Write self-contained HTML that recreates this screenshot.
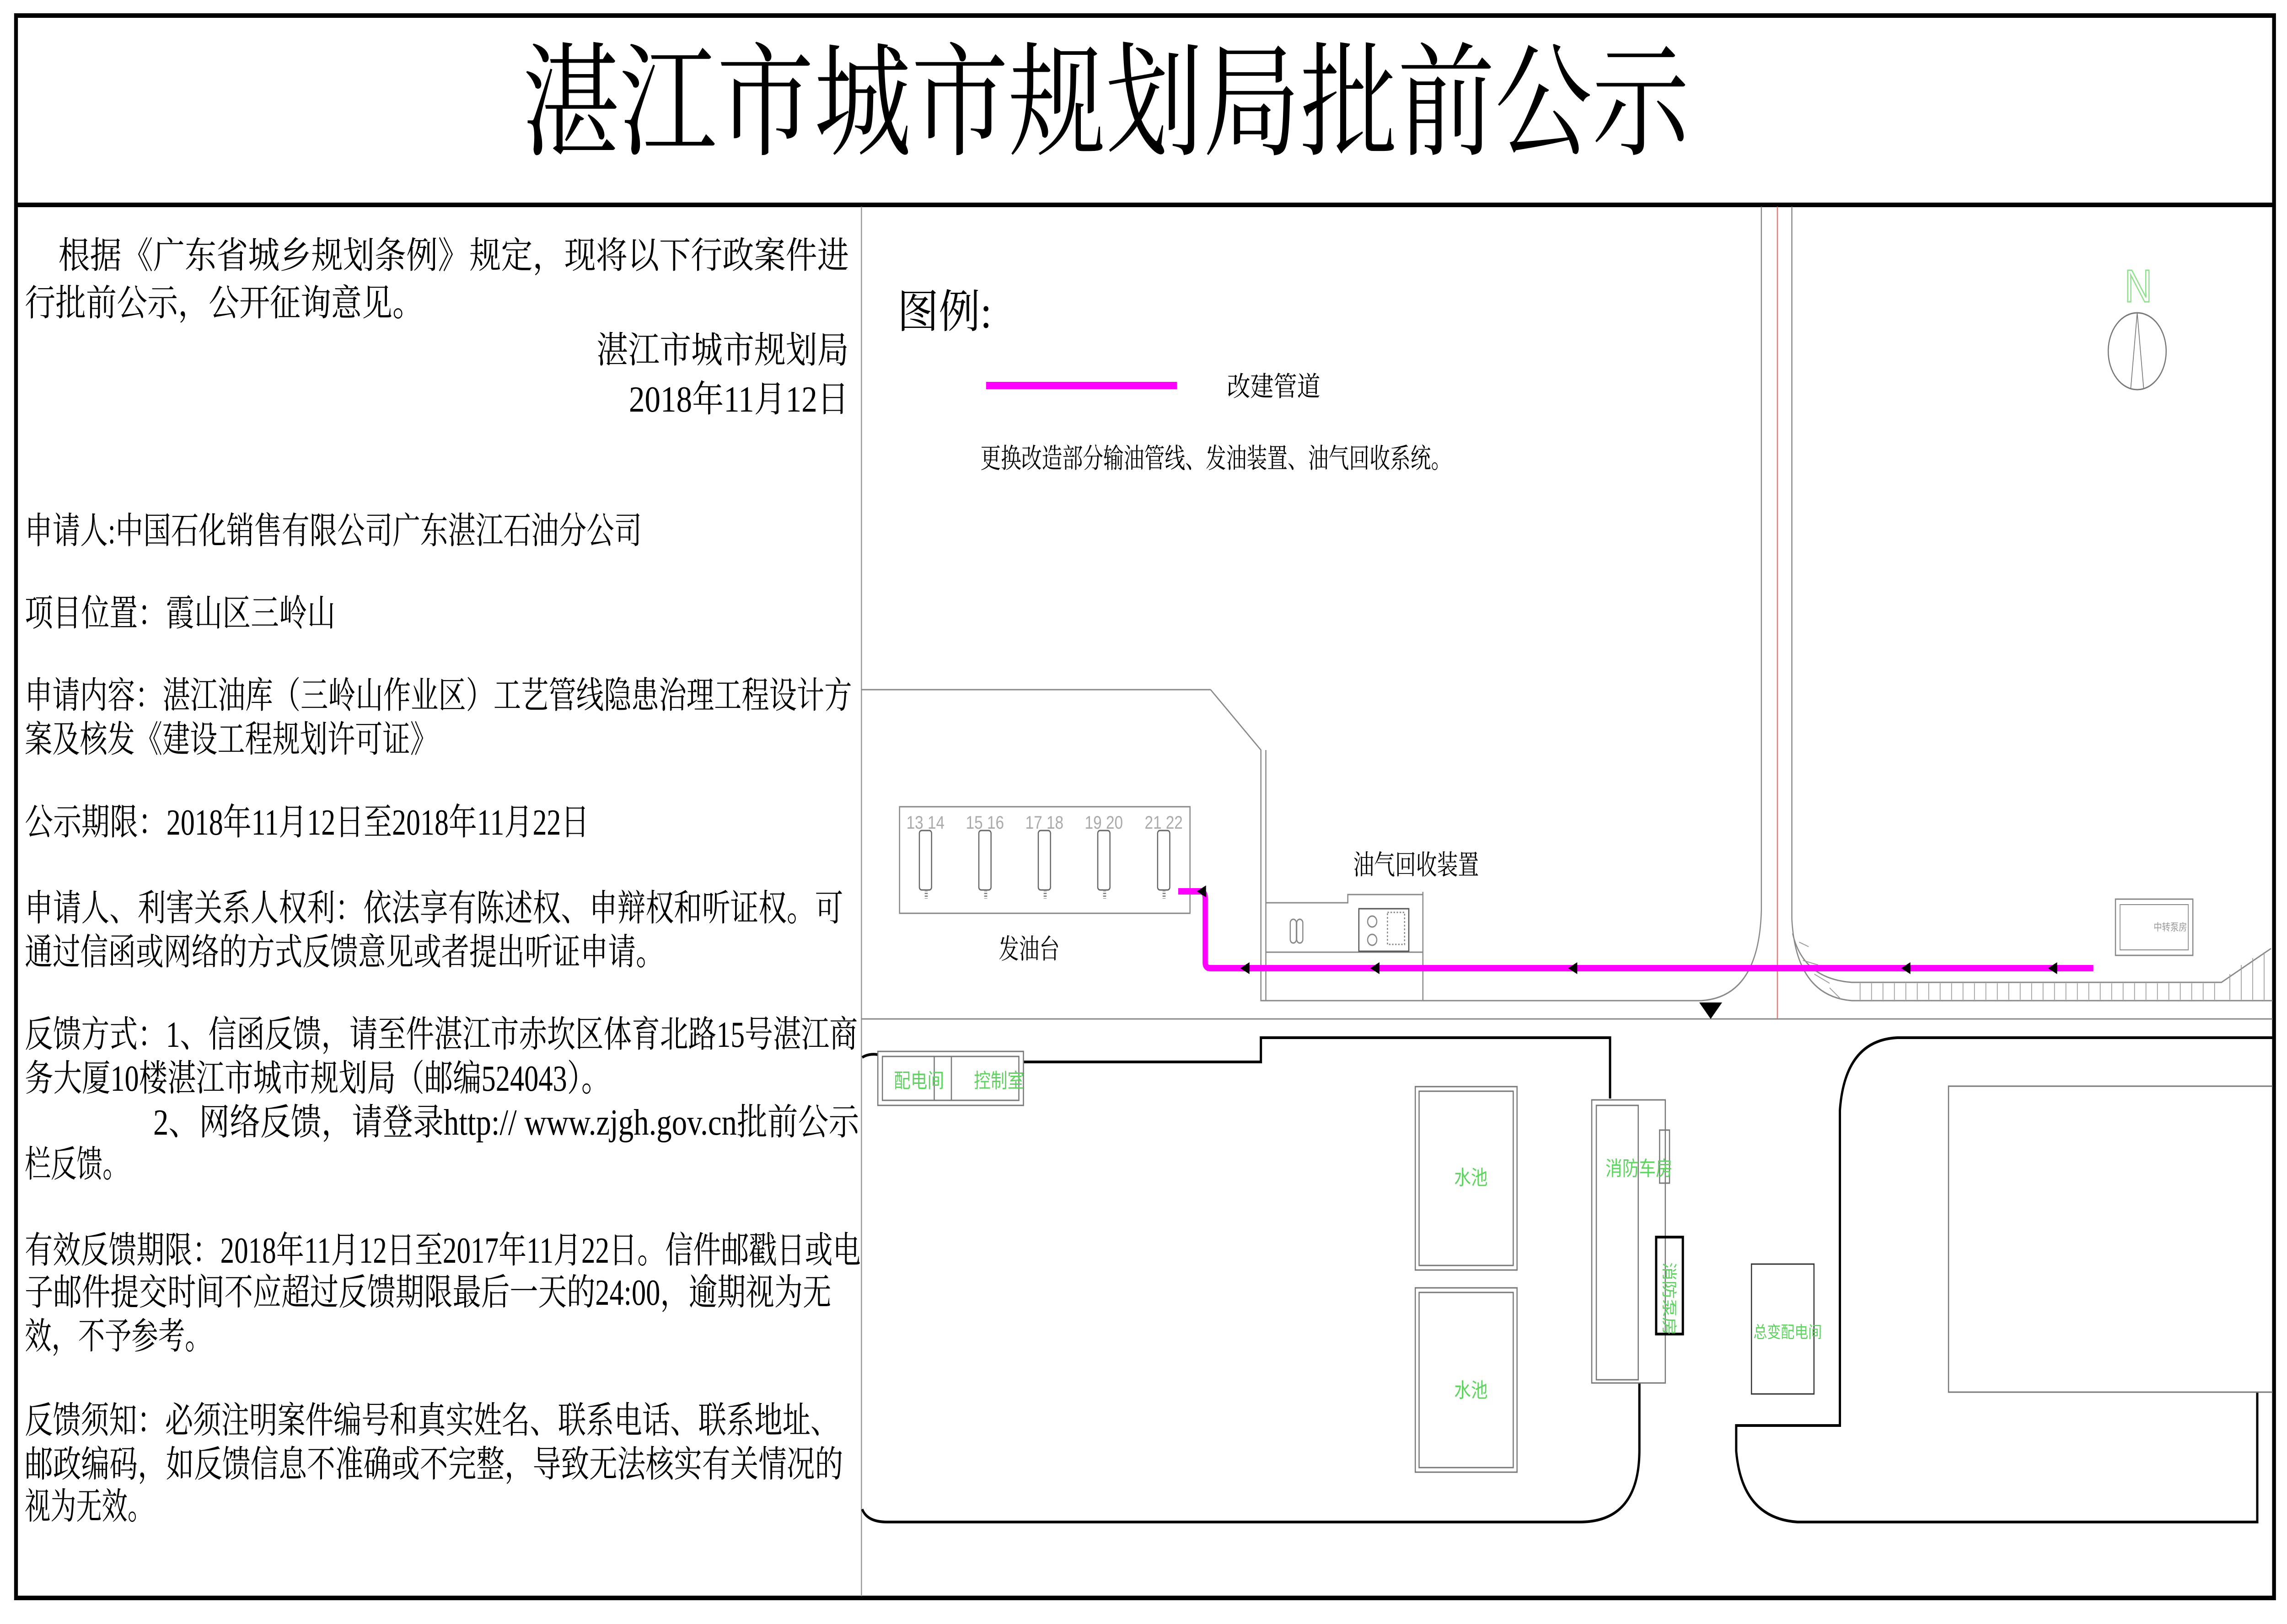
<!DOCTYPE html>
<html><head><meta charset="utf-8"><style>
html,body{margin:0;padding:0;background:#fff;overflow:hidden;}
svg{display:block;width:100vw;height:100vh;}
.t{font-family:"Liberation Serif","Noto Serif CJK SC",serif;fill:#000;}
.g{font-family:"Liberation Sans","Noto Sans CJK SC",sans-serif;fill:#5fd35f;}
</style></head><body>
<svg viewBox="0 0 6000 3551" preserveAspectRatio="none" xmlns="http://www.w3.org/2000/svg">
<rect width="6000" height="3551" fill="#fff"/>
<rect x="42" y="34" width="5924" height="3460" fill="none" stroke="#000" stroke-width="10"/>
<line x1="42" y1="448" x2="5966" y2="448" stroke="#000" stroke-width="10"/>
<line x1="2260" y1="452" x2="2260" y2="3490" stroke="#999" stroke-width="3"/>
<text class="t" x="1370" y="318" font-size="270" textLength="3062" lengthAdjust="spacingAndGlyphs">湛江市城市规划局批前公示</text>
<g class="t" font-size="80">
<text x="153" y="586" textLength="2074" lengthAdjust="spacingAndGlyphs">根据《广东省城乡规划条例》规定，现将以下行政案件进</text>
<text x="65" y="690" textLength="1045" lengthAdjust="spacingAndGlyphs">行批前公示，公开征询意见。</text>
<text x="1565" y="793" textLength="662" lengthAdjust="spacingAndGlyphs">湛江市城市规划局</text>
<text x="1650" y="900" textLength="577" lengthAdjust="spacingAndGlyphs">2018年11月12日</text>
<text x="65" y="1188" textLength="1619" lengthAdjust="spacingAndGlyphs">申请人:中国石化销售有限公司广东湛江石油分公司</text>
<text x="65" y="1368" textLength="815" lengthAdjust="spacingAndGlyphs">项目位置：霞山区三岭山</text>
<text x="65" y="1548" textLength="2170" lengthAdjust="spacingAndGlyphs">申请内容：湛江油库（三岭山作业区）工艺管线隐患治理工程设计方</text>
<text x="65" y="1644" textLength="1083" lengthAdjust="spacingAndGlyphs">案及核发《建设工程规划许可证》</text>
<text x="65" y="1825" textLength="1481" lengthAdjust="spacingAndGlyphs">公示期限：2018年11月12日至2018年11月22日</text>
<text x="65" y="2013" textLength="2147" lengthAdjust="spacingAndGlyphs">申请人、利害关系人权利：依法享有陈述权、申辩权和听证权。可</text>
<text x="65" y="2109" textLength="1676" lengthAdjust="spacingAndGlyphs">通过信函或网络的方式反馈意见或者提出听证申请。</text>
<text x="65" y="2289" textLength="2185" lengthAdjust="spacingAndGlyphs">反馈方式：1、信函反馈，请至件湛江市赤坎区体育北路15号湛江商</text>
<text x="65" y="2385" textLength="1535" lengthAdjust="spacingAndGlyphs">务大厦10楼湛江市城市规划局（邮编524043）。</text>
<text x="402" y="2481" textLength="1852" lengthAdjust="spacingAndGlyphs">2、网络反馈，请登录http:// www.zjgh.gov.cn批前公示</text>
<text x="65" y="2573" textLength="272" lengthAdjust="spacingAndGlyphs">栏反馈。</text>
<text x="65" y="2761" textLength="2193" lengthAdjust="spacingAndGlyphs">有效反馈期限：2018年11月12日至2017年11月22日。信件邮戳日或电</text>
<text x="65" y="2853" textLength="2116" lengthAdjust="spacingAndGlyphs">子邮件提交时间不应超过反馈期限最后一天的24:00，逾期视为无</text>
<text x="65" y="2949" textLength="490" lengthAdjust="spacingAndGlyphs">效，不予参考。</text>
<text x="65" y="3133" textLength="2135" lengthAdjust="spacingAndGlyphs">反馈须知：必须注明案件编号和真实姓名、联系电话、联系地址、</text>
<text x="65" y="3229" textLength="2147" lengthAdjust="spacingAndGlyphs">邮政编码，如反馈信息不准确或不完整，导致无法核实有关情况的</text>
<text x="65" y="3321" textLength="337" lengthAdjust="spacingAndGlyphs">视为无效。</text>
</g>
<text class="t" x="2354" y="716" font-size="100" textLength="248" lengthAdjust="spacingAndGlyphs">图例:</text>
<line x1="2587" y1="843" x2="3088" y2="843" stroke="#f0f" stroke-width="16"/>
<text class="t" x="3219" y="866" font-size="60" textLength="245" lengthAdjust="spacingAndGlyphs">改建管道</text>
<text class="t" x="2572" y="1023" font-size="60" textLength="1236" lengthAdjust="spacingAndGlyphs">更换改造部分输油管线、发油装置、油气回收系统。</text>
<text x="5610" y="660" font-size="100" text-anchor="middle" fill="none" stroke="#8fe08f" stroke-width="3" font-family="Liberation Sans,sans-serif">N</text>
<ellipse cx="5607" cy="768" rx="76" ry="84" fill="none" stroke="#777" stroke-width="3"/>
<path d="M5607 684 L5590 850 M5607 684 L5624 850" stroke="#777" stroke-width="2" fill="none"/>
<g fill="none" stroke="#888" stroke-width="3">
<path d="M4621 452 L4621 1990 Q4615 2180 4463 2188 L3733 2188"/>
<line x1="4663" y1="452" x2="4663" y2="2228" stroke="#e08080"/>
<path d="M4701 452 L4701 2010 Q4712 2178 4858 2188 L5962 2188"/>
<path d="M4703 2041 Q4730 2140 4858 2148 L5828 2148 L5958 2074"/>
<line x1="2260" y1="2228" x2="5962" y2="2228"/>
<line x1="2260" y1="1508" x2="3176" y2="1508"/>
<path d="M3176 1508 L3308 1640 L3308 2188 L3733 2188"/>
<line x1="3321" y1="1640" x2="3321" y2="2188"/>
<line x1="3733" y1="1950" x2="3733" y2="2188"/>
</g>
<path d="M4880 2150 V2186 M4910 2150 V2186 M4940 2150 V2186 M4970 2150 V2186 M5000 2150 V2186 M5030 2150 V2186 M5060 2150 V2186 M5090 2150 V2186 M5120 2150 V2186 M5150 2150 V2186 M5180 2150 V2186 M5210 2150 V2186 M5240 2150 V2186 M5270 2150 V2186 M5300 2150 V2186 M5330 2150 V2186 M5360 2150 V2186 M5390 2150 V2186 M5420 2150 V2186 M5450 2150 V2186 M5480 2150 V2186 M5510 2150 V2186 M5540 2150 V2186 M5570 2150 V2186 M5600 2150 V2186 M5630 2150 V2186 M5660 2150 V2186 M5690 2150 V2186 M5720 2150 V2186 M5750 2150 V2186 M5780 2150 V2186 M5810 2150 V2186 M5850 2130 V2186 M5880 2110 V2186 M5910 2095 V2186 M5940 2082 V2186 M4720 2060 L4745 2070 M4730 2100 L4770 2110 M4760 2130 L4800 2150 M4800 2160 L4830 2185" stroke="#999" stroke-width="2"/>
<rect x="2360" y="1764" width="762" height="233" fill="none" stroke="#888" stroke-width="3"/>
<g stroke="#666" stroke-width="3" fill="none">
<rect x="2412" y="1816" width="32" height="130" rx="6"/>
<rect x="2568" y="1816" width="32" height="130" rx="6"/>
<rect x="2724" y="1816" width="32" height="130" rx="6"/>
<rect x="2880" y="1816" width="32" height="130" rx="6"/>
<rect x="3037" y="1816" width="32" height="130" rx="6"/>
</g>
<g stroke="#888" stroke-width="8" stroke-dasharray="3 3">
<line x1="2430" y1="1946" x2="2430" y2="1965"/><line x1="2586" y1="1946" x2="2586" y2="1965"/><line x1="2742" y1="1946" x2="2742" y2="1965"/><line x1="2898" y1="1946" x2="2898" y2="1965"/><line x1="3054" y1="1946" x2="3054" y2="1965"/>
</g>
<g font-family="Liberation Sans,sans-serif" font-size="40" fill="#aaa" text-anchor="middle">
<text x="2428" y="1812">13 14</text><text x="2584" y="1812">15 16</text><text x="2740" y="1812">17 18</text><text x="2896" y="1812">19 20</text><text x="3053" y="1812">21 22</text>
</g>
<text class="t" x="2620" y="2096" font-size="60" textLength="160" lengthAdjust="spacingAndGlyphs">发油台</text>
<text class="t" x="3550" y="1912" font-size="60" textLength="330" lengthAdjust="spacingAndGlyphs">油气回收装置</text>
<g fill="none" stroke="#888" stroke-width="3">
<path d="M3321 1974 L3536 1974 L3536 1956 L3733 1956"/>
<line x1="3321" y1="2082" x2="3733" y2="2082"/>
<rect x="3565" y="1987" width="131" height="93" stroke="#555"/>
<rect x="3385" y="2010" width="16" height="52" rx="8"/>
<rect x="3402" y="2010" width="16" height="52" rx="8"/>
<circle cx="3600" cy="2015" r="12"/><circle cx="3600" cy="2055" r="12"/>
<rect x="3640" y="1995" width="45" height="70" stroke-dasharray="4 4"/>
</g>
<rect x="5550" y="1966" width="203" height="123" fill="none" stroke="#888" stroke-width="3"/>
<rect x="5562" y="1978" width="179" height="99" fill="none" stroke="#888" stroke-width="2"/>
<text x="5650" y="2035" font-size="22" fill="#999" font-family="Noto Sans CJK SC,sans-serif">中转泵房</text>
<path d="M3091 1949 L3150 1949 Q3162 1949 3162 1965 L3162 2105 Q3162 2117 3176 2117 L5492 2117" fill="none" stroke="#f0f" stroke-width="14"/>
<g fill="#000">
<path d="M3140 1949 l24 -13 v26 z"/>
<path d="M3254 2117 l24 -13 v26 z"/>
<path d="M3595 2117 l24 -13 v26 z"/>
<path d="M4114 2117 l24 -13 v26 z"/>
<path d="M4988 2117 l24 -13 v26 z"/>
<path d="M5373 2117 l24 -13 v26 z"/>
<path d="M4458 2192 h60 l-30 36 z"/>
</g>
<g fill="none" stroke="#000" stroke-width="6">
<path d="M2262 2312 Q2280 2303 2303 2306"/>
<path d="M2685 2322 L3308 2322 L3308 2269 L4224 2269 L4224 2402"/>
<path d="M4301 3024 L4301 3170 Q4301 3328 4144 3328 L2327 3328 Q2275 3328 2262 3300"/>
<path d="M4977 2269 L5962 2269 M4977 2269 Q4840 2275 4827 2428 L4827 3117 L4555 3117 L4555 3173 Q4570 3320 4716 3328 L5922 3328 L5922 3044"/>
</g>
<g fill="none" stroke="#777" stroke-width="3">
<rect x="2303" y="2299" width="382" height="118"/>
<rect x="2315" y="2310" width="358" height="96"/>
<line x1="2451" y1="2310" x2="2451" y2="2406"/><line x1="2496" y1="2310" x2="2496" y2="2406"/>
<rect x="3713" y="2376" width="267" height="401"/><rect x="3723" y="2386" width="247" height="381"/>
<rect x="3713" y="2816" width="267" height="403"/><rect x="3723" y="2826" width="247" height="383"/>
<rect x="4176" y="2405" width="193" height="619"/><rect x="4188" y="2417" width="110" height="600"/>
<rect x="4354" y="2471" width="26" height="116"/>
<rect x="4595" y="2764" width="164" height="284" stroke="#333"/>
<path d="M5962 2375 L5112 2375 L5112 3044 L5962 3044"/>
</g>
<rect x="4345" y="2705" width="70" height="212" fill="none" stroke="#000" stroke-width="6"/>
<g class="g" font-size="44">
<text x="2345" y="2378">配电间</text>
<text x="2555" y="2378">控制室</text>
<text x="3815" y="2590">水池</text>
<text x="3815" y="3055">水池</text>
<text x="4212" y="2570">消防车房</text>
<text x="4600" y="2925" font-size="36">总变配电间</text>
</g>
<text class="g" font-size="40" transform="translate(4365,2760) rotate(90)">消防泵房</text>
</svg>
</body></html>
